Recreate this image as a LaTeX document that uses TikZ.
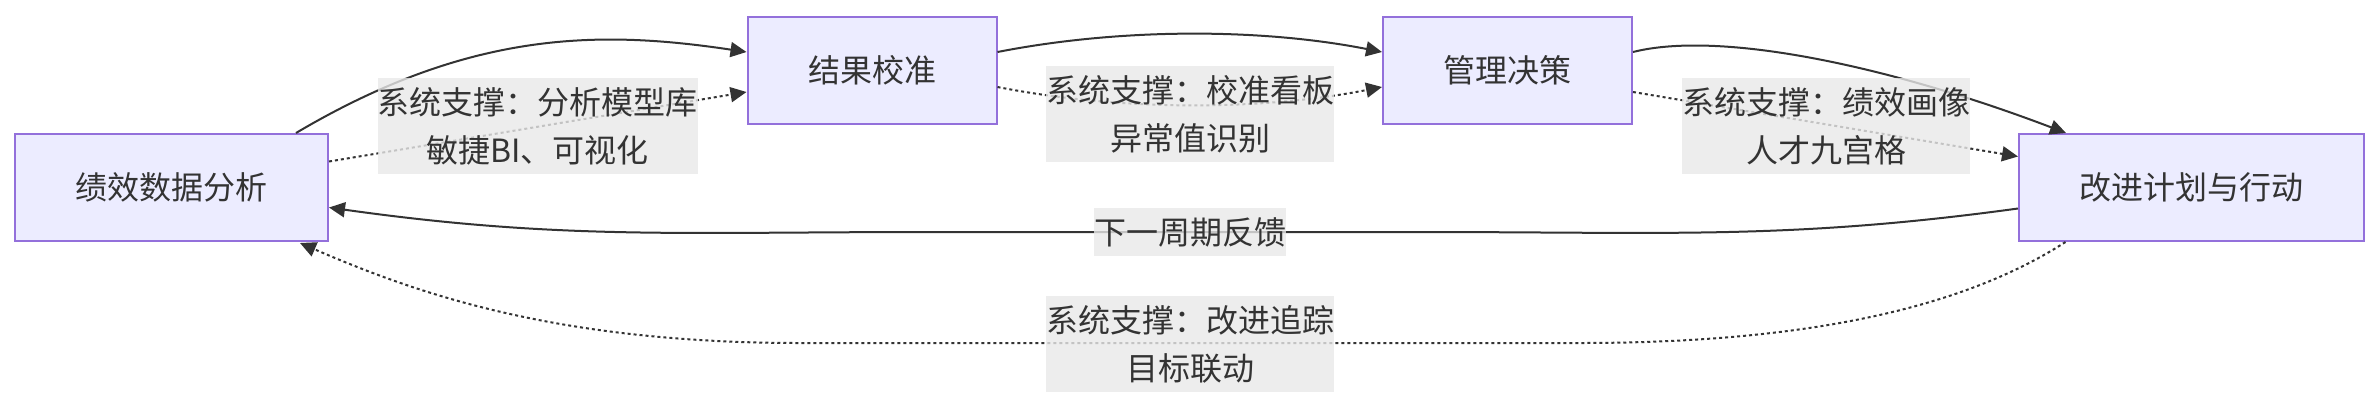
\documentclass[tikz,border=0pt]{standalone}
\usepackage{fontspec}
\setmainfont{Noto Sans CJK SC}
\usetikzlibrary{arrows.meta,calc}
\definecolor{nodefill}{HTML}{ECECFF}
\definecolor{nodeborder}{HTML}{9370DB}
\definecolor{ink}{HTML}{333333}
\definecolor{labelbg}{HTML}{E8E8E8}
\begin{document}
\begin{tikzpicture}[x=1pt,y=-1pt,
  box/.style={draw=nodeborder, fill=nodefill, line width=2pt, text=ink, font=\fontsize{32}{48}\selectfont, inner sep=0pt, minimum height=107pt},
  lbl/.style={fill=labelbg, fill opacity=0.8, text opacity=1, text=ink, font=\fontsize{32}{48}\selectfont, inner sep=0pt, align=center},
  solidedge/.style={draw=ink, line width=2pt, -{Triangle[length=16pt,width=15pt]}},
  dotedge/.style={draw=ink, line width=2pt, dash pattern=on 3pt off 3pt, -{Triangle[length=16pt,width=15pt]}}
]
\useasboundingbox (0,0) rectangle (2380,408);

\node[box, minimum width=313pt] (A) at (171.5,187.5) {绩效数据分析};
\node[box, minimum width=249pt] (B) at (872,70) {结果校准};
\node[box, minimum width=249pt] (C) at (1507.5,70) {管理决策};
\node[box, minimum width=345pt] (D) at (2191.5,187.5) {改进计划与行动};

% A -> B
\draw[solidedge] ($(A.north east)+(-33,0)$) .. controls (470,30) and (600,30) .. ($(B.west)+(0,-18)$);
\draw[dotedge] ($(A.east)+(0,-26)$) -- ($(B.west)+(0,22)$);
% B -> C
\draw[solidedge] ($(B.east)+(0,-18)$) .. controls (1120,28) and (1260,28) .. ($(C.west)+(0,-18)$);
\draw[dotedge] ($(B.east)+(0,17)$) .. controls (1120,111) and (1260,111) .. ($(C.west)+(0,17)$);
% C -> D
\draw[solidedge] ($(C.east)+(0,-18)$) .. controls (1720,30) and (1890,66) .. ($(D.north west)+(48,0)$);
\draw[dotedge] ($(C.east)+(0,22)$) -- ($(D.west)+(0,-31)$);
% D -> A
\draw[solidedge] ($(D.west)+(0,21)$) .. controls (1788,240) and (1668,232) .. (1418,232) -- (930,232) .. controls (680,232) and (560,240) .. ($(A.east)+(0,20)$);
\draw[dotedge] ($(D.south)+(-126,0)$) .. controls (1960,310) and (1800,343) .. (1580,343) -- (800,343) .. controls (560,343) and (420,295) .. ($(A.south east)+(-29,1)$);

% labels
\node[lbl, minimum width=319pt, minimum height=96pt] (L1) at (537.5,126) {系统支撑：分析模型库\\敏捷BI、可视化};
\node[lbl, minimum width=288pt, minimum height=96pt] (L2) at (1190,114) {系统支撑：校准看板\\异常值识别};
\node[lbl, minimum width=288pt, minimum height=96pt] (L3) at (1826,126) {系统支撑：绩效画像\\人才九宫格};
\node[lbl, minimum width=192pt, minimum height=48pt] (L4) at (1190,232) {下一周期反馈};
\node[lbl, minimum width=288pt, minimum height=96pt] (L5) at (1190,344) {系统支撑：改进追踪\\目标联动};
\end{tikzpicture}
\end{document}
